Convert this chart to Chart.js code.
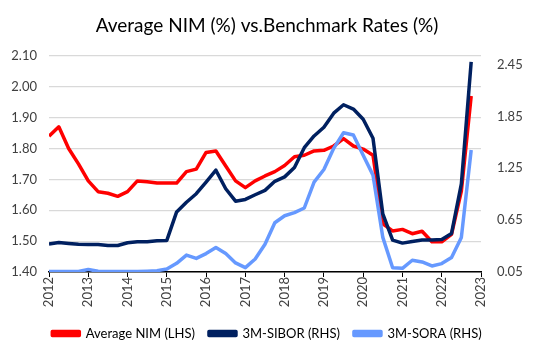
<!DOCTYPE html>
<html>
<head>
<meta charset="utf-8">
<script src="https://cdn.jsdelivr.net/npm/chart.js@4"></script>
<style>
    html, body { margin: 0; padding: 0; background: #ffffff; }
    #wrap { width: 534px; height: 354px; }
</style>
</head>
<body>
<div id="wrap"><canvas id="nimChart" width="534" height="354"></canvas></div>
<script>
// Data: quarterly, 2012Q1 .. 2022Q4
const startYear = 2012;
const yearTicks = [2012, 2013, 2014, 2015, 2016, 2017, 2018, 2019, 2020, 2021, 2022, 2023];

const nimValues = [1.84, 1.87, 1.80, 1.75, 1.695, 1.66, 1.655, 1.645, 1.66, 1.695, 1.692, 1.688,
    1.688, 1.688, 1.725, 1.733, 1.787, 1.792, 1.743, 1.695, 1.673, 1.695, 1.711, 1.725,
    1.745, 1.773, 1.778, 1.792, 1.794, 1.808, 1.832, 1.808, 1.798, 1.778, 1.556, 1.533,
    1.538, 1.524, 1.532, 1.498, 1.498, 1.522, 1.662, 1.97];

const siborValues = [0.373, 0.39, 0.38, 0.37, 0.368, 0.368, 0.356, 0.356, 0.388, 0.40, 0.40, 0.41,
    0.415, 0.745, 0.857, 0.955, 1.09, 1.227, 1.013, 0.869, 0.889, 0.943, 0.994, 1.099,
    1.15, 1.258, 1.487, 1.623, 1.724, 1.887, 1.984, 1.934, 1.817, 1.596, 0.722, 0.419,
    0.384, 0.403, 0.419, 0.419, 0.426, 0.496, 1.07, 2.48];

const soraValues = [0.055, 0.055, 0.055, 0.055, 0.08, 0.058, 0.055, 0.055, 0.055, 0.055, 0.06, 0.065,
    0.085, 0.15, 0.245, 0.207, 0.263, 0.333, 0.263, 0.155, 0.1, 0.2, 0.37, 0.62,
    0.70, 0.737, 0.79, 1.09, 1.235, 1.48, 1.66, 1.635, 1.40, 1.17, 0.45, 0.1,
    0.093, 0.186, 0.166, 0.12, 0.147, 0.217, 0.45, 1.46];

const rightTicks = [0.05, 0.65, 1.25, 1.85, 2.45];
const rightMin = 0.05;
const rightMax = 2.55;

// quarter index -> decimal year on the linear x axis
function toPoints(values) {
    return values.map((v, i) => ({ x: startYear + i / 4, y: v }));
}

const FONT = 'Lato, "Open Sans", sans-serif';
const TEXT = '#404040';

function makeLine(label, values, color, axis, order) {
    return {
        label: label,
        data: toPoints(values),
        yAxisID: axis,
        borderColor: color,
        backgroundColor: color,
        borderWidth: 3.5,
        pointRadius: 0,
        tension: 0,
        borderJoinStyle: 'round',
        order: order
    };
}

const ctx = document.getElementById('nimChart').getContext('2d');

new Chart(ctx, {
    type: 'line',
    data: {
        datasets: [
            makeLine('Average NIM (LHS)', nimValues, '#ff0000', 'yLeft', 3),
            makeLine('3M-SIBOR (RHS)', siborValues, '#002060', 'yRight', 2),
            makeLine('3M-SORA (RHS)', soraValues, '#6699ff', 'yRight', 1)
        ]
    },
    options: {
        responsive: false,
        animation: false,
        layout: { padding: { left: 0, right: 0, top: 0, bottom: 4 } },
        plugins: {
            title: {
                display: true,
                text: 'Average NIM (%) vs.Benchmark Rates (%)',
                color: '#000000',
                font: { family: FONT, size: 19, weight: 'normal' },
                padding: { top: 14, bottom: 19 }
            },
            legend: {
                position: 'bottom',
                labels: {
                    color: '#000000',
                    font: { family: FONT, size: 13 },
                    boxWidth: 27,
                    boxHeight: 4,
                    padding: 14,
                    sort: (a, b) => a.datasetIndex - b.datasetIndex
                }
            },
            tooltip: { enabled: false }
        },
        scales: {
            x: {
                type: 'linear',
                min: 2012,
                max: 2023,
                afterBuildTicks: (axis) => { axis.ticks = yearTicks.map(v => ({ value: v })); },
                ticks: {
                    color: TEXT,
                    font: { family: FONT, size: 13 },
                    minRotation: 90,
                    maxRotation: 90,
                    padding: 0,
                    callback: (v) => String(v)
                },
                grid: { drawOnChartArea: false, color: '#000000', tickLength: 5 },
                border: { color: '#000000', width: 1.5 },
                afterFit: (scale) => { scale.height = 41; }
            },
            yLeft: {
                position: 'left',
                min: 1.4,
                max: 2.1,
                ticks: {
                    stepSize: 0.1,
                    color: TEXT,
                    font: { family: FONT, size: 13 },
                    padding: 12,
                    callback: (v) => Number(v).toFixed(2)
                },
                grid: { color: '#d9d9d9', lineWidth: 1.2, drawTicks: false },
                border: { display: false },
                afterFit: (scale) => { scale.width = 49; }
            },
            yRight: {
                position: 'right',
                min: rightMin,
                max: rightMax,
                afterBuildTicks: (axis) => {
                    axis.ticks = rightTicks.map(v => ({ value: v }));
                    axis.min = rightMin;
                    axis.max = rightMax;
                },
                ticks: {
                    color: TEXT,
                    font: { family: FONT, size: 13 },
                    padding: 16,
                    callback: (v) => Number(v).toFixed(2)
                },
                grid: { drawOnChartArea: false, drawTicks: false },
                border: { display: false },
                afterFit: (scale) => { scale.width = 53; }
            }
        }
    }
});
</script>
</body>
</html>
